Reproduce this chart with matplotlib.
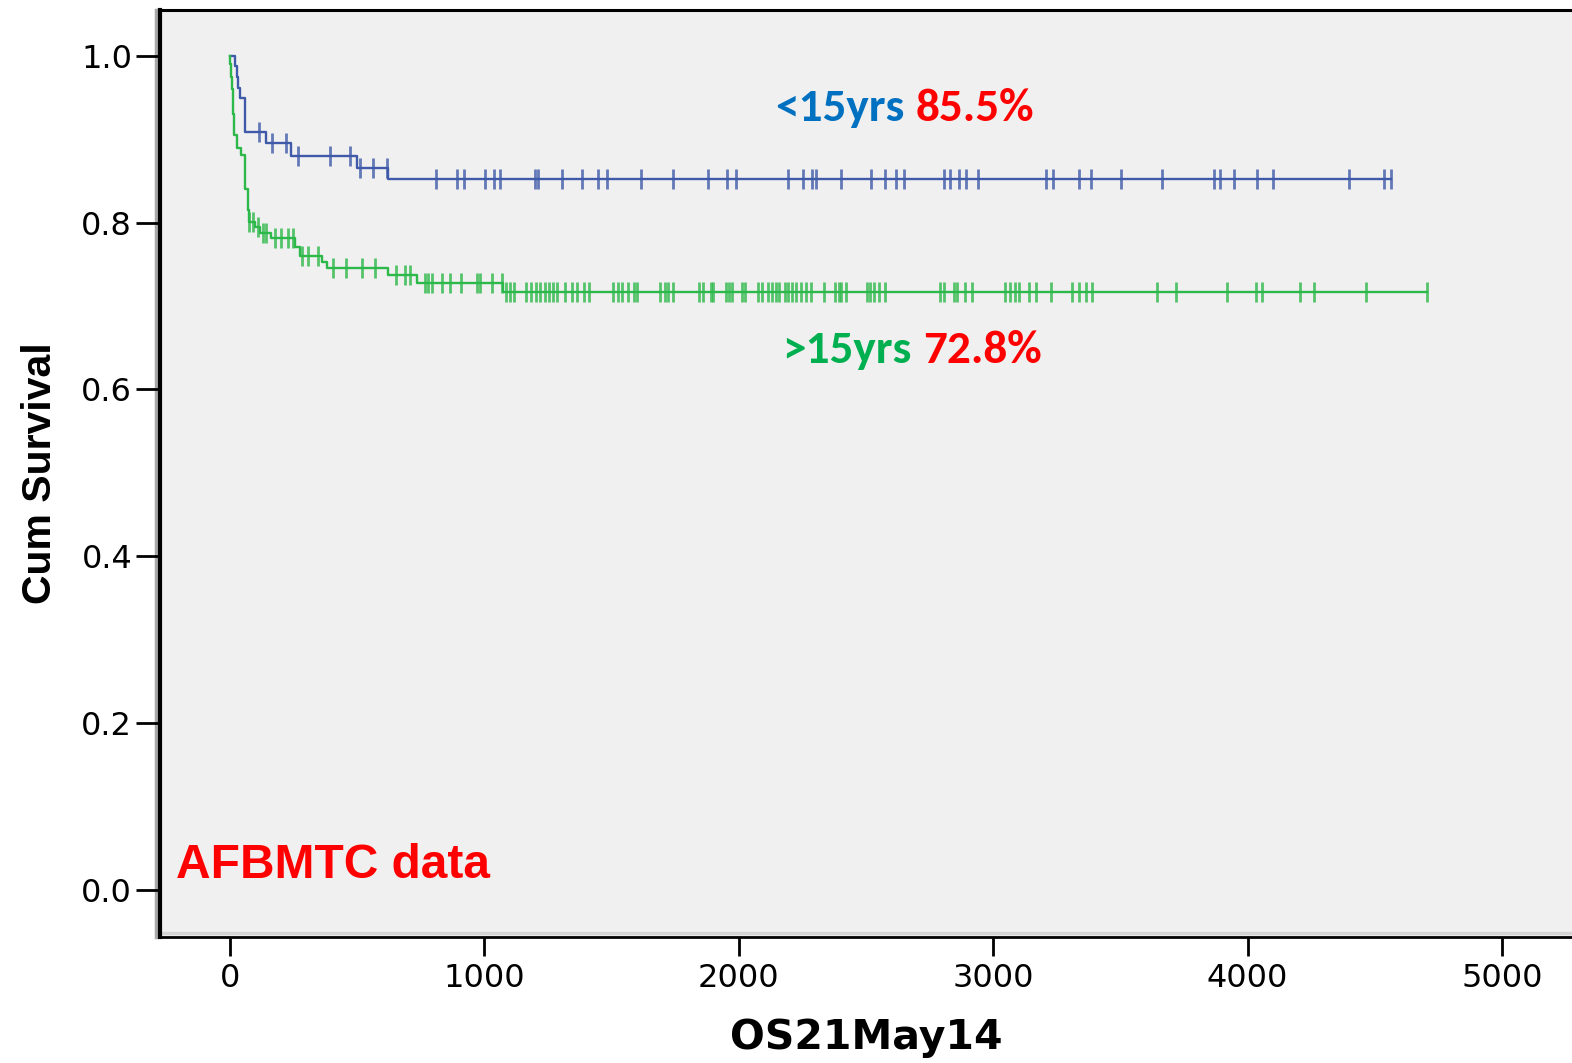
import numpy as np
import matplotlib
matplotlib.use("Agg")
import matplotlib.pyplot as plt
from matplotlib import font_manager as fm

# ---------------- data ----------------
group_names = ["<15yrs", ">15yrs"]
group_pcts = ["85.5%", "72.8%"]

blue_event_t = [20, 26, 33, 40, 59, 140, 240, 500, 622]
blue_event_s = [0.988, 0.974, 0.961, 0.949, 0.908, 0.895, 0.880, 0.866, 0.852]
blue_censor_t = [115, 167, 222, 269, 395, 470, 511, 561, 616,
                 808, 894, 921, 1002, 1037, 1060, 1200, 1212, 1304, 1383, 1448,
                 1481, 1617, 1740, 1880, 1955, 1990, 2192, 2252, 2287, 2302,
                 2400, 2520, 2573, 2618, 2648, 2806, 2829, 2864, 2892, 2939,
                 3208, 3236, 3337, 3384, 3502, 3663, 3868, 3890, 3947, 4038,
                 4098, 4399, 4535, 4565]

green_event_t = [2, 5, 8, 10, 12, 14, 17, 28, 45, 60, 70, 75, 100, 120, 160,
                 255, 275, 360, 380, 622, 734, 1075]
green_event_s = [0.99, 0.975, 0.96, 0.945, 0.93, 0.915, 0.905, 0.889, 0.881,
                 0.84, 0.815, 0.801, 0.795, 0.788, 0.781, 0.771, 0.760, 0.753,
                 0.745, 0.737, 0.727, 0.717]
green_censor_t = [75, 90, 110, 130, 143, 177, 200, 230, 248, 282, 308, 347,
                  406, 458, 520, 569, 654, 687, 707, 766, 780, 793, 832, 864,
                  908, 970, 982, 1029, 1068,
                  1085, 1100, 1118, 1165, 1185, 1204, 1220, 1240, 1255, 1270,
                  1285, 1318, 1344, 1364, 1391, 1413, 1504, 1526, 1542, 1564,
                  1587, 1601, 1692, 1708, 1723, 1740, 1843, 1858, 1891, 1900,
                  1948, 1963, 1972, 2011, 2023, 2075, 2090, 2115, 2130, 2145,
                  2158, 2180, 2195, 2210, 2225, 2245, 2263, 2285, 2336, 2377,
                  2392, 2400, 2422, 2502, 2515, 2530, 2550, 2573, 2791, 2806,
                  2844, 2859, 2889, 2918, 3045, 3065, 3085, 3100, 3140, 3169,
                  3229, 3308, 3337, 3365, 3387, 3645, 3717, 3918, 4033, 4058,
                  4205, 4259, 4467, 4706]

x_ticks = [0, 1000, 2000, 3000, 4000, 5000]
y_ticks = [0.0, 0.2, 0.4, 0.6, 0.8, 1.0]

# ---------------- fonts ----------------
avail = {f.name for f in fm.fontManager.ttflist}
def pick(*names):
    for n in names:
        if n in avail:
            return n
    return "DejaVu Sans"
f_arial = pick("Liberation Sans")
f_cal = pick("Carlito", "Lato", "Open Sans")

BLUE = "#3F5AA9"
GREEN = "#2DB84A"

fig = plt.figure(figsize=(15.72, 10.63), dpi=100)
ax = fig.add_axes([160/1572, 1 - 937/1063, 1 - 160/1572, (937 - 10)/1063])
ax.set_facecolor("#F0F0F0")

def km(ev_t, ev_s, cen_t, color):
    end = max(max(cen_t), max(ev_t))
    xs = np.concatenate([[0], ev_t, [end]])
    ys = np.concatenate([[1.0], ev_s, [ev_s[-1]]])
    ax.step(xs, ys, where="post", color=color, lw=1.7, zorder=3)
    ct = np.array(cen_t)
    idx = np.searchsorted(np.array(ev_t), ct, side="right")
    full_s = np.concatenate([[1.0], ev_s])
    cs = full_s[idx]
    ax.plot(ct, cs, ls="none", marker="|", ms=14, mew=2.0, color=color,
            alpha=0.8, zorder=4)

km(blue_event_t, blue_event_s, blue_censor_t, BLUE)
km(green_event_t, green_event_s, green_censor_t, GREEN)

ax.set_xlim(-275, 5275)
ax.set_ylim(-0.0563, 1.0548)
ax.set_xticks(x_ticks)
ax.set_yticks(y_ticks)
ax.set_xticklabels([str(v) for v in x_ticks], fontsize=23, family="DejaVu Sans")
ax.set_yticklabels([f"{v:.1f}" for v in y_ticks], fontsize=23, family="DejaVu Sans")
ax.tick_params(axis="x", length=14, width=2, pad=5, color="black")
ax.tick_params(axis="y", length=17, width=2, pad=3, color="black")

ax.spines["right"].set_visible(False)
ax.spines["left"].set_linewidth(3.0)
ax.spines["top"].set_linewidth(2.2)
ax.spines["bottom"].set_linewidth(2.0)
# grey shadow lines (SPSS look)
ax.plot([-0.003, -0.003], [0, 1], transform=ax.transAxes, color="#A8A8A8",
        lw=2.5, clip_on=False, zorder=0.5)
ax.plot([0, 1], [0.004, 0.004], transform=ax.transAxes, color="#D4D4D4",
        lw=2.5, clip_on=False, zorder=0.5)

ax.set_xlabel("OS21May14", fontsize=29.5, fontweight="bold",
              family="DejaVu Sans", labelpad=17)
ax.set_ylabel("Cum Survival", fontsize=29.5, fontweight="bold",
              family=f_arial, labelpad=16)

# annotations
ax.text(2142, 0.937, group_names[0], color="#0070C0", fontsize=34,
        fontweight="bold", family=f_cal, va="center", ha="left")
ax.text(2697, 0.937, group_pcts[0], color="#FF0000", fontsize=34,
        fontweight="bold", family=f_cal, va="center", ha="left")
ax.text(2170, 0.647, group_names[1], color="#00B050", fontsize=34,
        fontweight="bold", family=f_cal, va="center", ha="left")
ax.text(2724, 0.647, group_pcts[1], color="#FF0000", fontsize=34,
        fontweight="bold", family=f_cal, va="center", ha="left")
ax.text(-212, 0.0144, "AFBMTC data", color="#FF0000", fontsize=34.5,
        fontweight="bold", family=f_arial, va="baseline", ha="left")

fig.savefig("out.png", dpi=100, facecolor="white")
